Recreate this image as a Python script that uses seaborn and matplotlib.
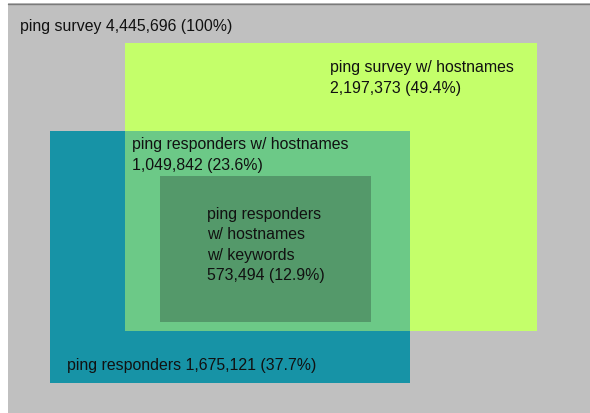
import matplotlib
matplotlib.use("Agg")
import matplotlib.pyplot as plt
import seaborn as sns
from matplotlib.patches import Rectangle

sns.set_theme(style="white")
plt.rcParams['font.family'] = ['Liberation Sans', 'DejaVu Sans']

# data
set_names = ["ping survey", "ping survey w/ hostnames", "ping responders",
             "ping responders w/ hostnames", "ping responders\nw/ hostnames\nw/ keywords"]
set_counts = [4445696, 2197373, 1675121, 1049842, 573494]
total = set_counts[0]

def fmt(n):
    return f"{n:,} ({n / total * 100:.1f}%)" if n != total else f"{n:,} (100%)"

# layout (pixel coordinates of the diagram: x0, y0, x1, y1)
boxes = {
    "survey": (8, 4, 592, 416),
    "survey_hn": (125, 44, 537, 332),
    "resp": (50, 132, 410, 384),
    "overlap": (125, 132, 410, 332),
    "kw": (160, 177, 371, 323),
}
colors = {
    "survey": "#c0c0c0",
    "survey_hn": "#c4ff6a",
    "resp": "#1793a6",
    "overlap": "#6cc987",
    "kw": "#54996a",
}

fig = plt.figure(figsize=(5.9, 4.14), dpi=100)
ax = fig.add_axes([0, 0, 1, 1])
ax.set_xlim(0, 590)
ax.set_ylim(414, 0)
ax.axis("off")

for key in ["survey", "survey_hn", "resp", "overlap", "kw"]:
    x0, y0, x1, y1 = boxes[key]
    ax.add_patch(Rectangle((x0, y0), x1 - x0, y1 - y0, facecolor=colors[key],
                           edgecolor="none", zorder=1))
ax.plot([8, 590], [4.5, 4.5], color="#7a7a7a", lw=1, zorder=2)

tc = "#111111"
fs = 11.4
ls = 1.45
ax.text(20, 26, f"{set_names[0]} {fmt(set_counts[0])}", fontsize=fs, color=tc,
        va="center", ha="left", zorder=3)
ax.text(330, 78, f"{set_names[1]}\n{fmt(set_counts[1])}", fontsize=fs, color=tc,
        va="center", ha="left", linespacing=ls, zorder=3)
ax.text(67, 366, f"{set_names[2]} {fmt(set_counts[2])}", fontsize=fs, color=tc,
        va="center", ha="left", zorder=3)
ax.text(132, 155, f"{set_names[3]}\n{fmt(set_counts[3])}", fontsize=fs, color=tc,
        va="center", ha="left", linespacing=ls, zorder=3)
ax.text(207, 245, f"{set_names[4]}\n{fmt(set_counts[4])}", fontsize=fs, color=tc,
        va="center", ha="left", linespacing=ls, zorder=3)

fig.savefig("out.png", dpi=100)
